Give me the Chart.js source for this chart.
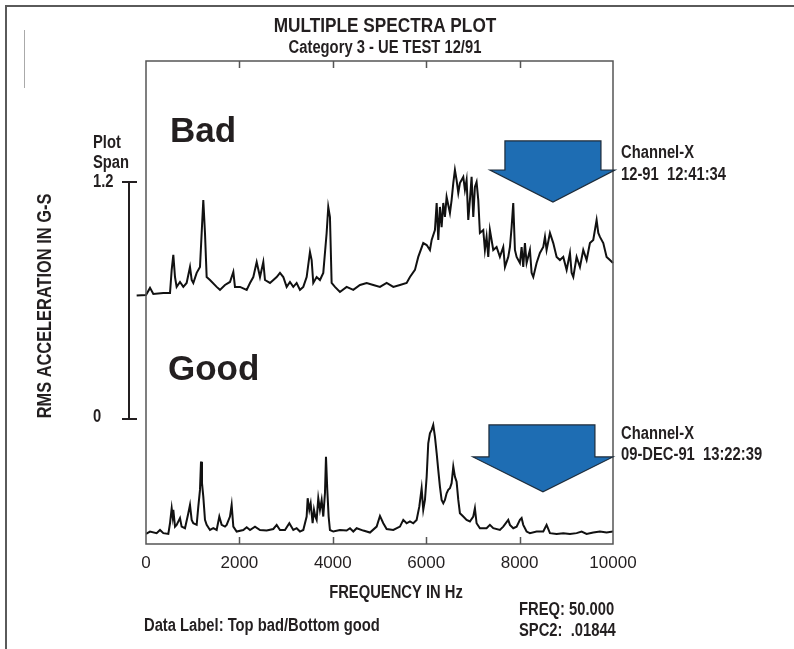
<!DOCTYPE html>
<html><head><meta charset="utf-8">
<script src="https://cdn.jsdelivr.net/npm/chart.js@4.4.1/dist/chart.umd.min.js"></script>
<style>html,body{margin:0;padding:0;background:#fff;} canvas{display:block;}</style>
</head><body>
<canvas id="c" width="794" height="649"></canvas>
<script>
// ---- data ----
const X_TICKS = [0, 2000, 4000, 6000, 8000, 10000];

const BAD_FREQ = [-200,0,86,157,371,514,550,585,621,656,728,799,870,942,978,1013,1085,1156,1192,1227,1263,1299,1370,1513,1584,1691,1798,1870,1905,2013,2156,2227,2298,2370,2441,2512,2548,2655,2798,2869,2940,3012,3083,3154,3226,3297,3368,3440,3511,3547,3582,3654,3725,3796,3868,3903,3939,3975,4046,4153,4296,4439,4582,4725,4867,5010,5153,5296,5438,5581,5652,5759,5830,5937,6010,6080,6117,6187,6224,6259,6294,6330,6366,6401,6437,6508,6544,6580,6615,6651,6687,6722,6794,6829,6865,6901,6936,6972,7008,7043,7079,7115,7150,7222,7257,7293,7329,7364,7436,7507,7578,7650,7686,7757,7793,7829,7864,7900,7936,8007,8043,8078,8114,8150,8221,8257,8293,8364,8435,8507,8543,8578,8650,8721,8793,8864,8935,9007,9078,9114,9150,9221,9292,9363,9435,9506,9577,9649,9685,9720,9792,9863,9934,10000,10040];
const BAD_AMP = [.012,.015,.051,.020,.025,.025,.142,.218,.106,.056,.081,.056,.076,.157,.091,.076,.127,.157,.329,.496,.329,.106,.091,.056,.041,.066,.081,.132,.056,.056,.041,.076,.106,.182,.106,.182,.091,.076,.106,.127,.106,.056,.081,.056,.076,.041,.056,.106,.233,.192,.076,.106,.091,.127,.329,.461,.410,.076,.056,.030,.056,.041,.066,.076,.066,.056,.076,.056,.066,.076,.106,.142,.208,.278,.268,.243,.294,.344,.481,.294,.461,.359,.481,.410,.511,.430,.496,.582,.648,.597,.532,.582,.613,.547,.597,.395,.496,.613,.410,.562,.587,.496,.329,.344,.243,.309,.208,.344,.243,.258,.208,.258,.157,.208,.258,.359,.481,.243,.208,.177,.258,.157,.278,.177,.243,.127,.106,.177,.228,.258,.309,.243,.329,.278,.208,.192,.208,.142,.228,.127,.106,.208,.157,.243,.192,.278,.294,.395,.329,.309,.278,.208,.192,.177,.132];

const GOOD_FREQ = [0,86,228,300,371,478,514,550,571,585,621,656,728,763,835,906,942,978,1013,1085,1120,1156,1178,1199,1227,1263,1299,1370,1441,1513,1570,1620,1691,1727,1798,1834,1870,1941,2084,2156,2227,2334,2441,2584,2726,2798,2869,2976,3069,3154,3226,3297,3368,3440,3462,3497,3526,3568,3597,3625,3654,3689,3725,3761,3796,3832,3854,3882,3911,3939,4011,4153,4296,4368,4439,4511,4653,4796,4939,5010,5081,5153,5296,5438,5509,5581,5652,5723,5795,5852,5902,5937,5973,6010,6044,6080,6117,6151,6187,6224,6258,6294,6330,6366,6401,6437,6472,6508,6544,6580,6615,6651,6687,6722,6794,6865,6936,7008,7043,7079,7150,7293,7364,7436,7578,7650,7757,7793,7864,7936,8007,8043,8078,8150,8221,8364,8507,8578,8650,8793,8935,9078,9221,9328,9435,9577,9720,9863,10000];
const GOOD_AMP = [.005,.017,.009,.025,.009,.005,.059,.135,.093,.127,.042,.051,.085,.042,.034,.110,.152,.076,.059,.051,.143,.228,.371,.262,.194,.076,.051,.025,.034,.025,.093,.051,.042,.051,.093,.152,.042,.017,.025,.039,.025,.042,.025,.022,.030,.051,.025,.025,.059,.025,.034,.017,.025,.093,.186,.127,.160,.059,.127,.093,.076,.186,.127,.177,.093,.211,.396,.228,.093,.025,.017,.025,.022,.034,.017,.034,.022,.012,.042,.096,.059,.030,.025,.042,.076,.059,.068,.059,.076,.143,.236,.127,.177,.295,.464,.515,.532,.557,.498,.414,.329,.245,.177,.160,.177,.211,.228,.236,.262,.346,.295,.270,.177,.110,.093,.076,.068,.093,.135,.059,.034,.034,.051,.034,.025,.042,.076,.051,.034,.042,.076,.085,.051,.017,.009,.017,.017,.051,.009,.005,.009,.005,.009,.017,.005,.012,.017,.012,.017];

const PLOT_SPAN = 1.2;      // G-S span shown by the bar
const BAD_OFFSET = 1.2;     // top spectrum is stacked one span higher
const GOOD_OFFSET = 0;
const SPAN_BASE = 0.587;    // where the span bar starts on the value scale
const Y_MIN = -0.046, Y_MAX = 2.4;

// block arrows in (Hz, value) units
const ARROW_TOP = {shaftL:7686, shaftR:9742, headL:7365, headR:10041, tip:8714, top:1.995, base:1.848, tipY:1.686};
const ARROW_BOT = {shaftL:7344, shaftR:9613, headL:7001, headR:9998, tip:8500, top:0.557, base:0.395, tipY:0.218};

const SANS = '"Liberation Sans", Arial, Helvetica, sans-serif';
const INK = '#231f20';
const NARROW_K = 0.82;   // horizontal squeeze to imitate a condensed bold face

function pts(f, a, off) { return f.map((v, i) => ({x: v, y: a[i] + off})); }

// condensed bold text
function ntext(c, str, x, y, size, align) {
  c.save();
  c.font = 'bold ' + size + 'px ' + SANS;
  c.textAlign = 'left';
  c.textBaseline = 'middle';
  const w = c.measureText(str).width * NARROW_K;
  const x0 = align === 'center' ? x - w / 2 : x;
  c.translate(x0, y);
  c.scale(NARROW_K, 1);
  c.fillText(str, 0, 0);
  c.restore();
}

const decor = {
  id: 'decor',
  beforeDraw(chart) {
    const c = chart.ctx;
    c.save(); c.fillStyle = '#fff'; c.fillRect(0, 0, chart.width, chart.height); c.restore();
  },
  afterDraw(chart) {
    const c = chart.ctx, a = chart.chartArea, xs = chart.scales.x, ys = chart.scales.y;
    const X = v => xs.getPixelForValue(v), Y = v => ys.getPixelForValue(v);
    c.save();
    // outer frame
    c.strokeStyle = '#5a5a5a'; c.lineWidth = 2;
    c.beginPath(); c.moveTo(6, 649); c.lineTo(6, 6); c.lineTo(794, 6); c.stroke();
    c.strokeStyle = '#aaa'; c.lineWidth = 1;
    c.beginPath(); c.moveTo(24.5, 30); c.lineTo(24.5, 88); c.stroke();

    // plot box + inner ticks
    c.strokeStyle = '#555'; c.lineWidth = 1.5;
    c.strokeRect(a.left, a.top, a.right - a.left, a.bottom - a.top);
    c.beginPath();
    X_TICKS.slice(1, -1).forEach(t => {
      const px = Math.round(X(t)) + 0.5;
      c.moveTo(px, a.top); c.lineTo(px, a.top + 7);
      c.moveTo(px, a.bottom); c.lineTo(px, a.bottom - 7);
    });
    c.stroke();

    c.fillStyle = INK;
    // titles
    ntext(c, 'MULTIPLE SPECTRA PLOT', 385, 26, 21, 'center');
    ntext(c, 'Category 3 - UE TEST 12/91', 385, 48, 18, 'center');
    ntext(c, 'FREQUENCY IN Hz', 396, 593, 18, 'center');

    // y title
    c.save(); c.translate(45, 306); c.rotate(-Math.PI / 2);
    ntext(c, 'RMS ACCELERATION IN G-S', 0, 0, 20, 'center');
    c.restore();

    // plot span bar
    const y0 = Y(SPAN_BASE), y1 = Y(SPAN_BASE + PLOT_SPAN);
    c.strokeStyle = INK; c.lineWidth = 2;
    c.beginPath();
    c.moveTo(129, y1); c.lineTo(129, y0);
    c.moveTo(122, y1); c.lineTo(137, y1);
    c.moveTo(122, y0); c.lineTo(137, y0);
    c.stroke();
    ntext(c, 'Plot', 93, 143, 18);
    ntext(c, 'Span', 93, 163, 18);
    ntext(c, String(PLOT_SPAN), 93, y1, 18);
    ntext(c, '0', 93, y0 - 2, 18);

    // Bad / Good
    c.textAlign = 'left'; c.textBaseline = 'alphabetic'; c.font = 'bold 35px ' + SANS;
    c.fillText('Bad', 170, 142);
    c.fillText('Good', 168, 380);

    // arrows
    [ARROW_TOP, ARROW_BOT].forEach(A => {
      c.beginPath();
      c.moveTo(X(A.shaftL), Y(A.top)); c.lineTo(X(A.shaftR), Y(A.top));
      c.lineTo(X(A.shaftR), Y(A.base)); c.lineTo(X(A.headR), Y(A.base));
      c.lineTo(X(A.tip), Y(A.tipY)); c.lineTo(X(A.headL), Y(A.base));
      c.lineTo(X(A.shaftL), Y(A.base)); c.closePath();
      c.fillStyle = '#1e6db3'; c.fill();
      c.strokeStyle = '#1c2b3a'; c.lineWidth = 1.2; c.stroke();
    });

    // right labels
    c.fillStyle = INK;
    ntext(c, 'Channel-X', 621, 153, 18);
    ntext(c, '12-91  12:41:34', 621, 175, 18);
    ntext(c, 'Channel-X', 621, 434, 18);
    ntext(c, '09-DEC-91  13:22:39', 621, 455, 18);

    // footer
    ntext(c, 'Data Label: Top bad/Bottom good', 144, 626, 18);
    ntext(c, 'FREQ: 50.000', 519, 610, 18);
    ntext(c, 'SPC2:  .01844', 519, 631, 18);
    c.restore();
  }
};

new Chart(document.getElementById('c'), {
  type: 'line',
  data: {
    datasets: [
      {label: 'Top bad', data: pts(BAD_FREQ, BAD_AMP, BAD_OFFSET), borderColor: '#111', borderWidth: 2, pointRadius: 0, tension: 0, clip: false},
      {label: 'Bottom good', data: pts(GOOD_FREQ, GOOD_AMP, GOOD_OFFSET), borderColor: '#111', borderWidth: 2, pointRadius: 0, tension: 0}
    ]
  },
  options: {
    responsive: false, animation: false, devicePixelRatio: 1,
    layout: {padding: {left: 146, right: 181, top: 61, bottom: 45}},
    plugins: {legend: {display: false}, tooltip: {enabled: false}, title: {display: false}},
    scales: {
      x: {
        type: 'linear', min: 0, max: 10000,
        afterBuildTicks: s => { s.ticks = X_TICKS.map(v => ({value: v})); },
        afterFit: s => { s.height = 60; },
        grid: {display: false, drawTicks: false},
        border: {display: false},
        ticks: {padding: 9, color: INK, font: {family: SANS, size: 17}, callback: v => String(v), maxRotation: 0},
        title: {display: false}
      },
      y: {display: false, min: Y_MIN, max: Y_MAX}
    }
  },
  plugins: [decor]
});
</script>
</body></html>
